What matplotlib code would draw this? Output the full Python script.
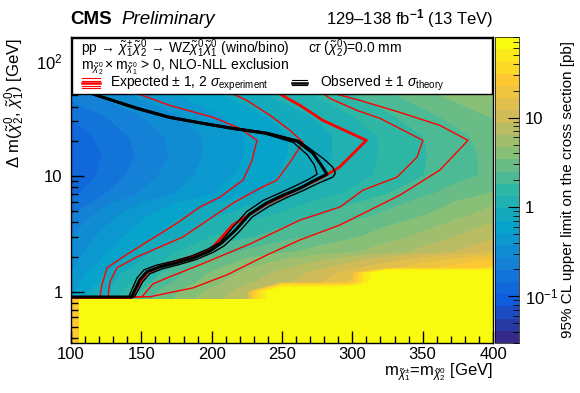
import numpy as np
import matplotlib
matplotlib.use('Agg')
import matplotlib.pyplot as plt
from matplotlib.colors import LinearSegmentedColormap, LogNorm
from matplotlib.ticker import MultipleLocator, LogLocator, NullFormatter
from matplotlib.patches import Rectangle
from matplotlib.lines import Line2D

plt.rcParams['font.family'] = ['Liberation Sans', 'DejaVu Sans']
plt.rcParams['mathtext.fontset'] = 'custom'
plt.rcParams['mathtext.rm'] = 'Liberation Sans'
plt.rcParams['mathtext.it'] = 'Liberation Sans:italic'
plt.rcParams['mathtext.bf'] = 'Liberation Sans:bold'

# ---- limit map (pb) ----
mass_vals = [100, 125, 150, 175, 200, 225, 250, 275, 300, 325, 350, 375, 400]
dm_vals = [0.87, 1.0, 1.2, 1.45, 1.6, 2.2, 3, 4.5, 7, 10, 15, 22, 33, 50, 80, 160]
limit_grid = [
    [0.5, 1.0, 2.0, 3.5, 5.5, 8, 100, 100, 100, 100, 100, 100, 100],
    [0.45, 0.9, 1.8, 3.3, 5, 7.5, 100, 100, 100, 100, 100, 100, 100],
    [0.4, 0.8, 1.5, 2.6, 4, 6, 8, 11, 18, 100, 100, 100, 100],
    [0.37, 0.7, 1.3, 2.2, 3.5, 5, 7, 9.5, 14, 100, 100, 100, 100],
    [0.35, 0.6, 1.1, 1.9, 3, 4.5, 6, 8, 11, 15, 20, 26, 32],
    [0.3, 0.5, 0.8, 1.3, 2.0, 2.6, 3.2, 3.8, 4.5, 5.5, 7, 9, 12],
    [0.27, 0.42, 0.6, 0.9, 1.3, 1.7, 2.1, 2.6, 3.2, 4, 5, 6.5, 8],
    [0.2, 0.32, 0.48, 0.65, 0.9, 1.15, 1.4, 1.8, 2.2, 2.7, 3.4, 4.3, 5.5],
    [0.13, 0.2, 0.28, 0.38, 0.5, 0.65, 0.85, 1.1, 1.4, 1.8, 2.3, 2.9, 3.5],
    [0.11, 0.16, 0.23, 0.32, 0.43, 0.56, 0.72, 0.92, 1.15, 1.45, 1.8, 2.2, 2.7],
    [0.11, 0.15, 0.21, 0.29, 0.4, 0.52, 0.67, 0.86, 1.1, 1.4, 1.75, 2.2, 2.7],
    [0.12, 0.16, 0.22, 0.3, 0.4, 0.52, 0.67, 0.86, 1.1, 1.4, 1.8, 2.3, 2.8],
    [0.15, 0.2, 0.27, 0.36, 0.47, 0.6, 0.78, 1.0, 1.3, 1.7, 2.2, 2.8, 3.5],
    [0.22, 0.3, 0.4, 0.5, 0.65, 0.82, 1.05, 1.35, 1.75, 2.3, 3.0, 3.8, 4.8],
    [0.3, 0.4, 0.55, 0.7, 0.9, 1.15, 1.45, 1.85, 2.4, 3.1, 4.0, 5.2, 6.5],
    [0.5, 0.65, 0.85, 1.1, 1.4, 1.8, 2.3, 2.9, 3.7, 4.7, 6, 7.5, 9],
]
# low-dm strip (no sensitivity)
band_m_edges = [100, 106, 400]
band_dm_edges = [0.3, 0.87]
band_vals = [[28, 100]]

# ---- contours (mass, dm) ----
obs_m = [100, 143, 145.5, 149, 154, 163, 175, 187, 199, 207, 217, 227, 239, 251, 263, 272, 282,
         278, 272, 261, 239, 215, 194, 170, 147, 118.5, 100, 90]
obs_dm = [0.9, 0.9, 1.04, 1.27, 1.49, 1.64, 1.78, 1.96, 2.26, 2.64, 3.42, 4.7, 5.85, 6.86, 7.9, 9.05, 10.4,
          12.4, 15.8, 20.0, 23.5, 25.9, 28.6, 32.3, 38.6, 50, 60, 70]
obs_up_m = [100, 145, 147.5, 151, 156, 165, 177, 189, 201, 209, 219, 229, 241, 253, 265, 275, 286, 288,
            286, 280, 273, 262, 240, 215, 194, 170, 147, 118.5, 100, 90]
obs_up_dm = [0.9, 0.9, 1.02, 1.22, 1.43, 1.58, 1.72, 1.90, 2.19, 2.5, 3.25, 4.45, 5.5, 6.5, 7.5, 8.6, 9.8, 10.6,
             12.0, 14.0, 16.2, 20.3, 23.8, 26.3, 29.0, 32.8, 39.2, 50.5, 60.5, 70]
obs_dn_m = [100, 141, 143.5, 147, 152, 161, 173, 185, 197, 206, 215, 225, 237, 249, 260, 269, 275,
            273, 268, 258, 238, 215, 194, 170, 147, 118.5, 100, 90]
obs_dn_dm = [0.9, 0.9, 1.06, 1.32, 1.55, 1.70, 1.84, 2.02, 2.33, 2.68, 3.6, 4.95, 6.2, 7.2, 8.3, 9.4, 10.4,
             12.5, 15.3, 19.6, 23.2, 25.5, 28.2, 31.8, 38.0, 49.3, 59.5, 69]

exp_m = [100, 143, 147, 154, 163, 187, 199, 215, 239, 263, 279, 291, 303, 310, 279, 263, 254, 247, 235]
exp_dm = [0.89, 0.89, 1.10, 1.46, 1.64, 2.04, 2.30, 3.78, 5.74, 7.88, 9.8, 12.0, 16.8, 20.4, 30.4, 40.9, 47, 53, 65]
exp_m2_m = [100, 120.6, 122, 125.6, 137, 154, 165.4, 175.4, 191.7, 205.9, 222.3, 228.7, 232.2,
            220.1, 200.9, 170.4, 146.9, 130]
exp_m2_dm = [0.89, 0.905, 1.15, 1.61, 2.0, 2.70, 3.29, 3.93, 5.41, 6.59, 9.24, 13.7, 20.4,
             25.9, 32.3, 40.9, 51.9, 62]
exp_m1_m = [100, 126.3, 127.7, 132.7, 146.9, 179.6, 215.2, 234.4, 246.4, 255.7, 264.9,
            255.7, 241.5, 225.1, 213, 200]
exp_m1_dm = [0.89, 0.905, 1.22, 1.61, 2.0, 2.98, 5.85, 7.88, 9.24, 13.2, 19.6,
             24.9, 33.6, 45.2, 53, 62]
exp_p1_m = [100, 150.5, 158.3, 170.4, 191.7, 227.2, 262.8, 291.2, 307.6, 331.7, 346, 350.2,
            319.7, 303.3, 284.1, 278.4, 268]
exp_p1_dm = [0.89, 0.905, 1.17, 1.35, 1.71, 2.59, 4.17, 5.41, 7.57, 9.8, 14.6, 20.4,
             31.6, 37.1, 47, 53, 65]
exp_p2_m = [100, 156.2, 186.7, 210.9, 239.3, 262.8, 291.2, 333.9, 362.3, 382.2,
            362.3, 333.9, 305.5, 284.1, 270]
exp_p2_dm = [0.89, 0.905, 1.08, 1.40, 2.08, 2.81, 3.78, 6.86, 11.3, 20.4,
             27.5, 35.6, 45.2, 53, 65]

# ROOT kBird palette
bird = [(0.2082, 0.1664, 0.5293), (0.0592, 0.3599, 0.8684), (0.0780, 0.5041, 0.8385),
        (0.0232, 0.6419, 0.7914), (0.1802, 0.7178, 0.6425), (0.5301, 0.7492, 0.4662),
        (0.8186, 0.7328, 0.3499), (0.9956, 0.7862, 0.1968), (0.9764, 0.9832, 0.0539)]
cmap = LinearSegmentedColormap.from_list('bird', bird, N=25)
cmap.set_over(bird[-1])
cmap.set_under(bird[0])
zmin, zmax = 0.03, 80
norm = LogNorm(vmin=zmin, vmax=zmax)
levels = np.geomspace(zmin, zmax, 26)

fig = plt.figure(figsize=(5.8, 3.93), dpi=100)
W, H = 580.0, 393.0
ax = fig.add_axes([71 / W, 1 - 343 / H, 422 / W, 306 / H])
cax = fig.add_axes([495 / W, 1 - 343 / H, 24 / W, 306 / H])

X, Y = np.meshgrid(mass_vals, dm_vals)
ax.contourf(X, Y, np.array(limit_grid), levels=levels, cmap=cmap, norm=norm, extend='both')
ax.pcolormesh(band_m_edges, band_dm_edges, np.array(band_vals), cmap=cmap, norm=norm)

for mm, dd, lw in [(exp_m2_m, exp_m2_dm, 1.0), (exp_m1_m, exp_m1_dm, 1.0),
                   (exp_p1_m, exp_p1_dm, 1.0), (exp_p2_m, exp_p2_dm, 1.0),
                   (exp_m, exp_dm, 2.0)]:
    ax.plot(mm, dd, color='#ff0000', lw=lw, zorder=3)
for mm, dd, lw in [(obs_up_m, obs_up_dm, 1.0), (obs_dn_m, obs_dn_dm, 1.0), (obs_m, obs_dm, 2.2)]:
    ax.plot(mm, dd, color='black', lw=lw, zorder=4)

ax.set_xlim(100, 400)
ax.set_yscale('log')
ax.set_ylim(0.36, 160)
ax.xaxis.set_major_locator(MultipleLocator(50))
ax.xaxis.set_minor_locator(MultipleLocator(10))
ax.yaxis.set_minor_locator(LogLocator(base=10, subs=np.arange(2, 10)))
ax.yaxis.set_minor_formatter(NullFormatter())
ax.set_yticks([1, 10, 100])
ax.set_yticklabels(['1', '10', '$10^{2}$'])
ax.tick_params(which='both', direction='in', top=False, right=False, labelsize=12)
ax.tick_params(which='major', length=9, width=1)
ax.tick_params(which='minor', length=5, width=1)
ax.tick_params(axis='x', pad=3)
ax.tick_params(axis='y', pad=6)
for s in ax.spines.values():
    s.set_linewidth(1)

# legend box
ax.add_patch(Rectangle((0.003, 0.815), 0.994, 0.182, transform=ax.transAxes,
                       facecolor='white', edgecolor='black', lw=1, zorder=10))

def fx(px):
    return px / W

def fy(py):
    return 1 - py / H

fs = 10
fig.text(fx(81), fy(49), r'pp$\,\rightarrow\,\tilde{\chi}^{\pm}_{1}\tilde{\chi}^{0}_{2}\,\rightarrow\,$WZ$\tilde{\chi}^{0}_{1}\tilde{\chi}^{0}_{1}$ (wino/bino)',
         fontsize=fs, va='center', ha='left', zorder=11)
fig.text(fx(308), fy(49), r'c$\tau$ ($\tilde{\chi}^{0}_{2}$)=0.0 mm', fontsize=fs, va='center', ha='left', zorder=11)
fig.text(fx(81), fy(67), r'm$_{\tilde{\chi}^{0}_{2}}\times$m$_{\tilde{\chi}^{0}_{1}}$ > 0, NLO-NLL exclusion',
         fontsize=fs, va='center', ha='left', zorder=11)
fig.text(fx(110), fy(83), r'Expected $\pm$ 1, 2 $\sigma_{\mathrm{experiment}}$', fontsize=fs, va='center', ha='left', zorder=11)
fig.text(fx(320), fy(83), r'Observed $\pm$ 1 $\sigma_{\mathrm{theory}}$', fontsize=fs, va='center', ha='left', zorder=11)
for yy, lw in [(78, 0.8), (80.5, 0.8), (83, 1.8), (85.5, 0.8), (88, 0.8)]:
    fig.add_artist(Line2D([fx(82), fx(100)], [fy(yy), fy(yy)], color='#ff0000', lw=lw, zorder=12))
for yy, lw in [(80, 0.8), (82.5, 1.8), (85, 0.8)]:
    fig.add_artist(Line2D([fx(292), fx(307)], [fy(yy), fy(yy)], color='black', lw=lw, zorder=12))

fig.text(fx(70), fy(19), 'CMS', fontsize=13.5, fontweight='bold', va='center', ha='left')
fig.text(fx(121), fy(19), 'Preliminary', fontsize=13.5, style='italic', va='center', ha='left')
fig.text(fx(493), fy(19), r'129–138 fb$^{\mathbf{-1}}$ (13 TeV)', fontsize=12, va='center', ha='right')

fig.text(fx(15), fy(38), r'$\Delta$ m($\tilde{\chi}^{0}_{2}$, $\tilde{\chi}^{0}_{1}$) [GeV]', fontsize=12,
         rotation=90, va='top', ha='center')
fig.text(fx(493), fy(372), r'm$_{\tilde{\chi}^{\pm}_{1}}$=m$_{\tilde{\chi}^{0}_{2}}$ [GeV]', fontsize=12,
         va='center', ha='right')

# colour scale
sm = plt.cm.ScalarMappable(norm=norm, cmap=cmap)
cb = fig.colorbar(sm, cax=cax)
cb.outline.set_linewidth(0.5)
cb.set_ticks([0.1, 1, 10])
cb.set_ticklabels(['$10^{-1}$', '1', '10'])
cax.yaxis.set_minor_locator(LogLocator(base=10, subs=np.arange(2, 10)))
cax.yaxis.set_minor_formatter(NullFormatter())
cax.tick_params(which='both', direction='in', right=True, left=False, labelsize=12, pad=4)
cax.tick_params(which='major', length=8)
cax.tick_params(which='minor', length=4)
fig.text(fx(568), fy(190), '95% CL upper limit on the cross section [pb]', fontsize=11,
         rotation=90, va='center', ha='center')

fig.savefig('out.png', dpi=100)
